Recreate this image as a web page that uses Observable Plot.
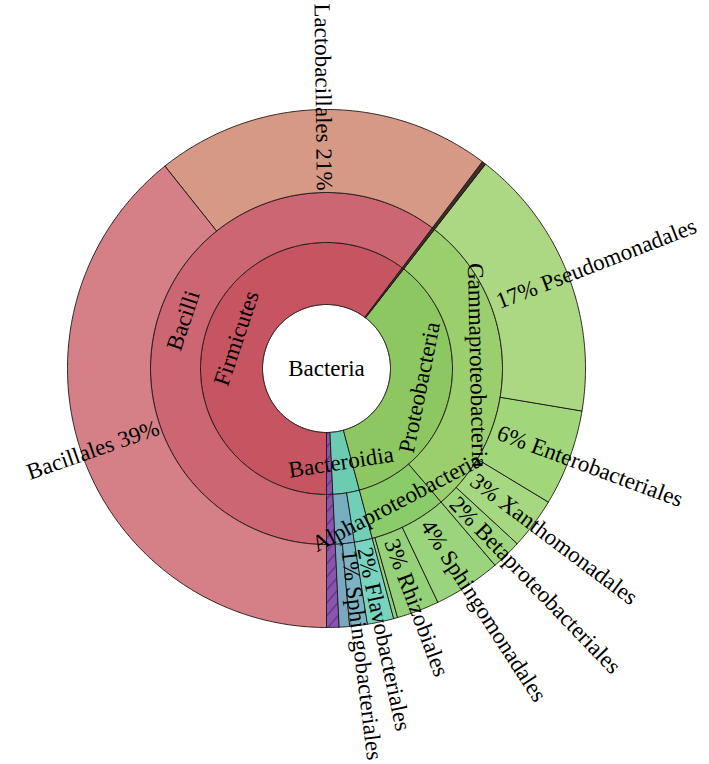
<!DOCTYPE html>
<html>
<head>
<meta charset="utf-8">
<script src="https://cdn.jsdelivr.net/npm/d3@7"></script>
<script src="https://cdn.jsdelivr.net/npm/@observablehq/plot@0.6"></script>
<style>
  html, body { margin: 0; padding: 0; background: #fff; }
  #chart { width: 709px; height: 764px; overflow: hidden; }
</style>
</head>
<body>
<div id="chart"></div>
<script>
// ---------------- data ----------------
const rootName = "Bacteria";

const phyla        = ["Firmicutes", "Other", "Proteobacteria", "Bacteroidetes", "Unassigned"];
const phylumLabels = ["Firmicutes", "", "Proteobacteria", "Bacteroidia", ""];

const classes      = ["Bacilli", "Other class", "Gammaproteobacteria", "Alphaproteobacteria", "Flavobacteriia", "Sphingobacteriia", "Unassigned class"];
const classPhylum  = ["Firmicutes", "Other", "Proteobacteria", "Proteobacteria", "Bacteroidetes", "Bacteroidetes", "Unassigned"];
const classLabels  = ["Bacilli", "", "Gammaproteobacteria", "Alphaproteobacteria", "", "", ""];

const orders = ["Bacillales", "Lactobacillales", "Other order", "Pseudomonadales", "Enterobacteriales",
  "Xanthomonadales", "Betaproteobacteriales", "Sphingomonadales", "Rhizobiales", "Alphaproteobacteria other",
  "Flavobacteriales", "Sphingobacteriales", "Bacteroidetes other", "Unassigned order"];
const orderClass = ["Bacilli", "Bacilli", "Other class", "Gammaproteobacteria", "Gammaproteobacteria",
  "Gammaproteobacteria", "Gammaproteobacteria", "Alphaproteobacteria", "Alphaproteobacteria", "Alphaproteobacteria",
  "Flavobacteriia", "Sphingobacteriia", "Sphingobacteriia", "Unassigned class"];
const orderShare = [39.3, 21.0, 0.25, 17.1, 6.0, 3.2, 1.9, 4.2, 2.65, 0.25, 1.65, 1.1, 0.65, 0.75];
const orderLabels = ["Bacillales 39%", "Lactobacillales 21%", "", "17% Pseudomonadales", "6% Enterobacteriales",
  "3% Xanthomonadales", "2% Betaproteobacteriales", "4% Sphingomonadales", "3% Rhizobiales", "",
  "2% Flavobacteriales", "1% Sphingobacteriales", "", ""];

// ---------------- styles ----------------
const colorNames = ["Bacteria",
  "Firmicutes", "Other", "Proteobacteria", "Bacteroidetes", "Unassigned",
  "Bacilli", "Other class", "Gammaproteobacteria", "Alphaproteobacteria", "Flavobacteriia", "Sphingobacteriia", "Unassigned class",
  "Bacillales", "Lactobacillales", "Other order", "Pseudomonadales", "Enterobacteriales", "Xanthomonadales",
  "Betaproteobacteriales", "Sphingomonadales", "Rhizobiales", "Alphaproteobacteria other",
  "Flavobacteriales", "Sphingobacteriales", "Bacteroidetes other", "Unassigned order"];
const colorValues = ["#ffffff",
  "#c65461", "#3e2e24", "#8cc762", "#6cccb2", "#8a55ae",
  "#cc6672", "#3e2e24", "#9bce6d", "#8acb6a", "#70cfb6", "#76aec0", "#8a55ae",
  "#d58087", "#d69985", "#3e2e24", "#acd884", "#a1d67b", "#a6d881",
  "#9ed67d", "#9ad47c", "#95d179", "#8fcf7e",
  "#78d4be", "#7db3c3", "#7aa8be", "#8a55ae"];

// ---------------- layout ----------------
const W = 709, H = 764, CX = 326, CY = 368;
const R = [0, 64, 126, 176, 259];
const START = 180;
const FONT = "'Liberation Serif', 'Times New Roman', serif";
const FS = 23;
const rad = Math.PI / 180;
const polar = (r, a) => [r * Math.sin(a * rad), -r * Math.cos(a * rad)];

const total = d3.sum(orderShare);
let acc = 0;
const orderNodes = orders.map((name, i) => {
  const a0 = START + 360 * acc / total;
  acc += orderShare[i];
  const a1 = START + 360 * acc / total;
  return {name, parent: orderClass[i], a0, a1, depth: 3, label: orderLabels[i]};
});
const classNodes = classes.map((name, i) => {
  const kids = orderNodes.filter(d => d.parent === name);
  return {name, parent: classPhylum[i], a0: d3.min(kids, d => d.a0), a1: d3.max(kids, d => d.a1), depth: 2, label: classLabels[i]};
});
const phylumNodes = phyla.map((name, i) => {
  const kids = classNodes.filter(d => d.parent === name);
  return {name, a0: d3.min(kids, d => d.a0), a1: d3.max(kids, d => d.a1), depth: 1, label: phylumLabels[i]};
});
const rootNode = {name: rootName, a0: 0, a1: 360, depth: 0, label: rootName};

const rows = [];
[rootNode, ...phylumNodes, ...classNodes, ...orderNodes].forEach((d, k) => {
  const r0 = R[d.depth], r1 = R[d.depth + 1];
  const n = Math.max(2, Math.ceil((d.a1 - d.a0) / 0.5));
  for (let i = 0; i <= n; i++) {
    const [x, y] = polar(r1, d.a0 + (d.a1 - d.a0) * i / n);
    rows.push({key: k, name: d.name, x, y});
  }
  if (r0 > 0) for (let i = n; i >= 0; i--) {
    const [x, y] = polar(r0, d.a0 + (d.a1 - d.a0) * i / n);
    rows.push({key: k, name: d.name, x, y});
  }
});
const hatchRows = rows.filter(d => d.name.startsWith("Unassigned"));

const radial = orderNodes.filter(d => d.label).map(d => {
  const m = ((d.a0 + d.a1) / 2) % 360;
  const right = m < 180;
  const [x, y] = polar(R[3] + (right ? 7 : 2), m);
  return {label: d.label, x, y, rotate: right ? m - 90 : m - 270, right};
});
const tangential = [...phylumNodes, ...classNodes].filter(d => d.label).map(d => {
  const m = ((d.a0 + d.a1) / 2) % 360;
  const [x, y] = polar((R[d.depth] + R[d.depth + 1]) / 2, m);
  const rot = (m > 90 && m < 270) ? m - 180 : (m >= 270 ? m - 360 : m);
  return {label: d.label, x, y, rotate: rot};
});
const center = [{label: rootNode.label, x: polar(0, 0)[0], y: polar(0, 0)[1]}];

const textOpts = {x: "x", y: "y", text: "label", fontSize: FS, fontFamily: FONT, fill: "black", lineAnchor: "middle"};

const svg = Plot.plot({
  width: W, height: H, margin: 0,
  style: {background: "white"},
  x: {domain: [-CX, W - CX], range: [0, W], axis: null},
  y: {domain: [-CY, H - CY], range: [0, H], axis: null},
  color: {type: "ordinal", domain: colorNames, range: colorValues},
  marks: [
    Plot.line(rows, {x: "x", y: "y", z: "key", fill: "name", stroke: "#1c1414", strokeWidth: 0.9, curve: "linear-closed", strokeLinejoin: "round"}),
    Plot.line(hatchRows, {x: "x", y: "y", z: "key", fill: "url(#hatch)", stroke: "none", curve: "linear-closed"}),
    Plot.text(radial.filter(d => d.right), {...textOpts, rotate: "rotate", textAnchor: "start"}),
    Plot.text(radial.filter(d => !d.right), {...textOpts, rotate: "rotate", textAnchor: "end"}),
    Plot.text(tangential, {...textOpts, rotate: "rotate", textAnchor: "middle"}),
    Plot.text(center, {...textOpts, textAnchor: "middle"})
  ]
});

const ns = "http://www.w3.org/2000/svg";
const defs = document.createElementNS(ns, "defs");
const pat = document.createElementNS(ns, "pattern");
pat.setAttribute("id", "hatch");
pat.setAttribute("patternUnits", "userSpaceOnUse");
pat.setAttribute("width", "11");
pat.setAttribute("height", "13");
const hp = document.createElementNS(ns, "path");
hp.setAttribute("d", "M0,13 L11,0");
hp.setAttribute("stroke", "#2e1d45");
hp.setAttribute("stroke-width", "0.9");
pat.appendChild(hp);
defs.appendChild(pat);
svg.insertBefore(defs, svg.firstChild);

document.getElementById("chart").appendChild(svg);
</script>
</body>
</html>
